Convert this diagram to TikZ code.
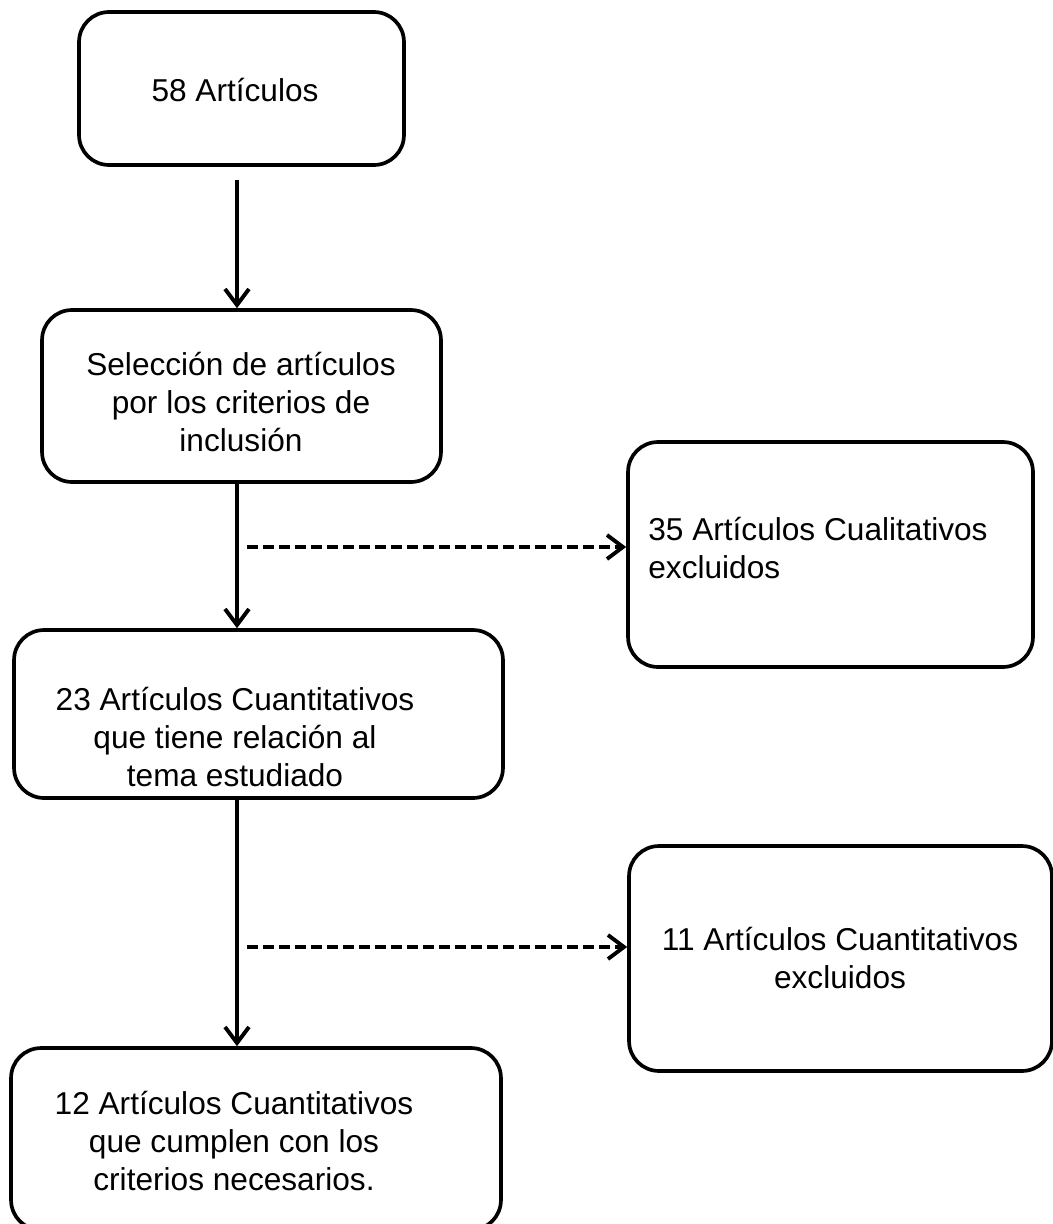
\documentclass[tikz,border=0pt]{standalone}
\usepackage{fontspec}
\setmainfont{Liberation Sans}
\usepackage{tikz}
\usetikzlibrary{arrows.meta, positioning, calc}
\definecolor{mydark}{RGB}{0,0,0}
\tikzset{
  box/.style={rectangle, draw=mydark, rounded corners=0.6cm,
    line width=2.1pt, inner sep=0pt},
  boxtext/.style={align=center, inner sep=0pt,
    font=\fontsize{18}{21.8}\selectfont},
  arrow/.style={-{Straight Barb[length=0.32cm, width=0.48cm, line width=2.2pt]},
    line width=2.2pt, color=mydark},
  dasharrow/.style={-{Straight Barb[length=0.32cm, width=0.48cm, line width=2.2pt]},
    line width=2pt, color=mydark, dash pattern=on 0.22cm off 0.1cm}
}
\begin{document}
\begin{tikzpicture}[x=0.02cm, y=-0.02cm]
  \useasboundingbox (0,0) rectangle (1053,1224);

  % Boxes
  \node[box, minimum width=6.5cm, minimum height=3.06cm] (b1) at (241.5,88.5) {};
  \node[box, minimum width=7.98cm, minimum height=3.44cm] (b2) at (241.5,396) {};
  \node[box, minimum width=8.1cm, minimum height=4.5cm] (b3) at (830.5,554.5) {};
  \node[box, minimum width=9.78cm, minimum height=3.36cm] (b4) at (258.5,714) {};
  \node[box, minimum width=8.46cm, minimum height=4.5cm] (b5) at (840.5,958.5) {};
  \node[box, minimum width=9.8cm, minimum height=3.64cm] (b6) at (256,1139) {};

  % Texts
  \node[boxtext] (t1) at (235,90) {58 Artículos};
  \node[boxtext] (t2) at (241,402) {Selección de artículos\\por los criterios de\\inclusión};
  \node[boxtext, anchor=west, align=left] (t3) at (648,548) {35 Artículos Cualitativos\\excluidos};
  \node[boxtext] (t4) at (235,737) {23 Artículos Cuantitativos\\que tiene relación al\\tema estudiado};
  \node[boxtext] (t5) at (840,958) {11 Artículos Cuantitativos\\excluidos};
  \node[boxtext] (t6) at (234,1141) {12 Artículos Cuantitativos\\que cumplen con los\\criterios necesarios.};

  % Main flow
  \coordinate (spine) at (237,0);
  \draw[arrow] ([yshift=-0.26cm]b1.south -| spine) -- (b2.north -| spine);
  \draw[arrow] (b2.south -| spine) -- (b4.north -| spine);
  \draw[arrow] (b4.south -| spine) -- (b6.north -| spine);

  % Excluded
  \coordinate (d1) at (247,547);
  \coordinate (d2) at (247,947);
  \draw[dasharrow] (d1) -- (d1 -| b3.west);
  \draw[dasharrow] (d2) -- (d2 -| b5.west);
\end{tikzpicture}
\end{document}
